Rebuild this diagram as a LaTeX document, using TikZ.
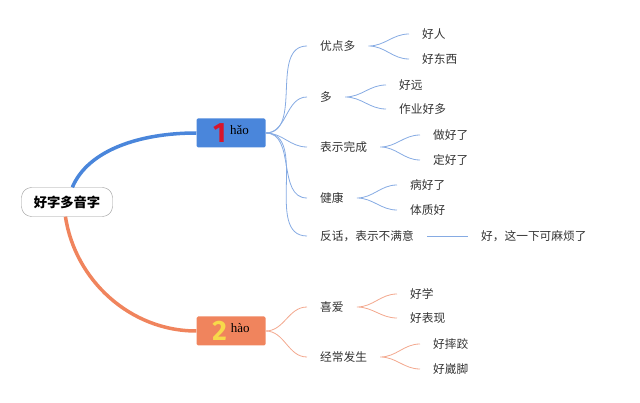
\documentclass[tikz,border=0pt]{standalone}
\usepackage{fontspec}
\setmainfont{Noto Sans CJK SC}
\newfontfamily\pyfont{Liberation Serif}
\newfontfamily\numfont{Fira Sans}
\definecolor{txt}{HTML}{333333}
\definecolor{blueA}{HTML}{4A86DB}
\definecolor{blueB}{HTML}{86ABE3}
\definecolor{orangeA}{HTML}{F0845D}
\definecolor{orangeB}{HTML}{F3A88E}
\definecolor{numred}{HTML}{D8152B}
\definecolor{numyellow}{HTML}{F7D94A}

\begin{document}
\begin{tikzpicture}[x=1pt,y=-1pt,
  every node/.style={font=\fontsize{11.7}{14}\selectfont,text=txt},
  topic/.style={anchor=west,inner xsep=13pt,inner ysep=2pt},
  main/.style={minimum width=69pt,minimum height=29pt,inner sep=0pt,rounded corners=1.5pt,text=black},
  bline/.style={draw=blueB,line width=0.8pt},
  oline/.style={draw=orangeB,line width=0.8pt}]
  \useasboundingbox (0,0) rectangle (640,403);
  \node[draw=black!40,fill=white,rounded corners=10pt,minimum width=91pt,minimum height=29pt,inner sep=0pt,
    font=\fontsize{13.3}{16}\selectfont\bfseries,text=black] (r) at (67,202) {好字多音字};
  \node[main,fill=blueA] (n1) at (231,133)
    {{\numfont\bfseries\fontsize{28}{28}\selectfont\color{numred}1}\hspace{4pt}\raisebox{8pt}{\pyfont\fontsize{13}{13}\selectfont hǎo}};
  \node[main,fill=orangeA] (n2) at (231,331)
    {{\numfont\bfseries\fontsize{28}{28}\selectfont\color{numyellow}2}\hspace{4pt}\raisebox{8pt}{\pyfont\fontsize{13}{13}\selectfont hào}};
  % first reading
  \path (307,46) node[topic] (a1) {优点多} (307,97) node[topic] (a2) {多}
  (307,147) node[topic] (a3) {表示完成} (307,198) node[topic] (a4) {健康}
  (307,236) node[topic] (a5) {反话，表示不满意};
  \path (409,34) node[topic] (a11) {好人} (409,59) node[topic] (a12) {好东西}
  (386,85) node[topic] (a21) {好远} (386,109) node[topic] (a22) {作业好多}
  (420,135) node[topic] (a31) {做好了} (420,160) node[topic] (a32) {定好了}
  (397,185) node[topic] (a41) {病好了} (397,210) node[topic] (a42) {体质好}
  (468,236) node[topic] (a51) {好，这一下可麻烦了};
  % second reading
  \path (307,307) node[topic] (b1) {喜爱} (307,357) node[topic] (b2) {经常发生};
  \path (397,294) node[topic] (b11) {好学} (397,318) node[topic] (b12) {好表现}
  (420,344) node[topic] (b21) {好摔跤} (420,369) node[topic] (b22) {好崴脚};
  \draw[blueA,line width=3.5pt] (r.70) .. controls (88,150) and (140,133) .. (n1.west);
  \draw[orangeA,line width=3.5pt] (r.-96) .. controls (75,280) and (130,331) .. (n2.west);
  \foreach \c in {a1,a2,a3,a4,a5}
    \draw[bline] (n1.east) to[out=0,in=180] (\c.west);
  \draw[bline] (a1.east) to[out=0,in=180] (a11.west) (a1.east) to[out=0,in=180] (a12.west);
  \draw[bline] (a2.east) to[out=0,in=180] (a21.west) (a2.east) to[out=0,in=180] (a22.west);
  \draw[bline] (a3.east) to[out=0,in=180] (a31.west) (a3.east) to[out=0,in=180] (a32.west);
  \draw[bline] (a4.east) to[out=0,in=180] (a41.west) (a4.east) to[out=0,in=180] (a42.west);
  \draw[bline] (a5.east) -- (a51.west);
  \foreach \c in {b1,b2}
    \draw[oline] (n2.east) to[out=0,in=180] (\c.west);
  \draw[oline] (b1.east) to[out=0,in=180] (b11.west) (b1.east) to[out=0,in=180] (b12.west);
  \draw[oline] (b2.east) to[out=0,in=180] (b21.west) (b2.east) to[out=0,in=180] (b22.west);
\end{tikzpicture}
\end{document}
